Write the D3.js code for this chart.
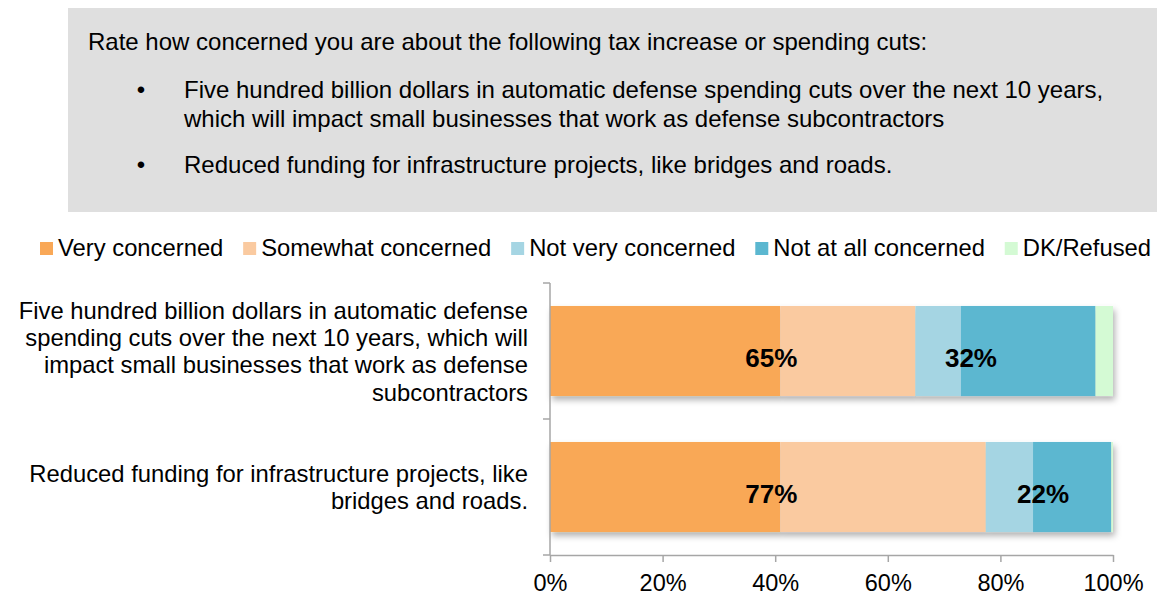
<!DOCTYPE html>
<html>
<head>
<meta charset="utf-8">
<script src="https://cdn.jsdelivr.net/npm/d3@7"></script>
<style>
  html, body { margin: 0; padding: 0; background: #fff; }
  svg { display: block; font-family: "Liberation Sans", Arial, sans-serif; }
</style>
</head>
<body>
<svg id="chart" width="1157" height="597"></svg>
<script>
// Survey question shown in the header panel
const questionText = "Rate how concerned you are about the following tax increase or spending cuts:";
const questionItems = [
  ["Five hundred billion dollars in automatic defense spending cuts over the next 10 years,",
   "which will impact small businesses that work as defense subcontractors"],
  ["Reduced funding for infrastructure projects, like bridges and roads."]
];

// Categories (wrapped axis labels)
const categories = ["defense", "infrastructure"];
const categoryLines = [
  ["Five hundred billion dollars in automatic defense",
   "spending cuts over the next 10 years, which will",
   "impact small businesses that work as defense",
   "subcontractors"],
  ["Reduced funding for infrastructure projects, like",
   "bridges and roads."]
];

// Response series (percent of respondents)
const seriesNames = ["Very concerned", "Somewhat concerned", "Not very concerned", "Not at all concerned", "DK/Refused"];
const veryConcerned      = [40.9, 40.9];
const somewhatConcerned  = [24.0, 36.5];
const notVeryConcerned   = [8.1, 8.4];
const notAtAllConcerned  = [23.9, 13.9];
const dkRefused          = [3.1, 0.3];

const seriesColors = ["#F9A857", "#FACAA0", "#A5D5E3", "#5BB7D0", "#D4FAD4"];
const xTicks = [0, 20, 40, 60, 80, 100];

// ---- layout ----
const svg = d3.select("#chart");
const font = "\"Liberation Sans\", Arial, sans-serif";

// header panel
svg.append("rect")
  .attr("x", 68).attr("y", 8).attr("width", 1157 - 68).attr("height", 204)
  .attr("fill", "#DFDFDF");

svg.append("text")
  .attr("x", 88).attr("y", 50)
  .attr("font-size", 24).attr("fill", "#000")
  .text(questionText);

const itemBaselines = [[98, 127], [172.5]];
questionItems.forEach((lines, i) => {
  svg.append("text")
    .attr("x", 141).attr("y", itemBaselines[i][0])
    .attr("text-anchor", "middle")
    .attr("font-size", 24).attr("fill", "#000")
    .text("\u2022");
  lines.forEach((ln, j) => {
    svg.append("text")
      .attr("x", 184).attr("y", itemBaselines[i][j])
      .attr("font-size", 24).attr("fill", "#000")
      .text(ln);
  });
});

// drop shadow for bars
const defs = svg.append("defs");
const f = defs.append("filter").attr("id", "barShadow")
  .attr("x", "-5%").attr("y", "-10%").attr("width", "115%").attr("height", "140%");
f.append("feDropShadow")
  .attr("dx", 2).attr("dy", 4).attr("stdDeviation", 3)
  .attr("flood-color", "#000").attr("flood-opacity", 0.3);

// scales
const x = d3.scaleLinear().domain([0, 100]).range([550, 1113]);
const y = d3.scaleBand().domain(categories).range([283, 555])
  .paddingInner(0.338).paddingOuter(0.169);

// stacked data
const table = categories.map((c, i) => ({
  cat: c,
  "Very concerned": veryConcerned[i],
  "Somewhat concerned": somewhatConcerned[i],
  "Not very concerned": notVeryConcerned[i],
  "Not at all concerned": notAtAllConcerned[i],
  "DK/Refused": dkRefused[i]
}));
const stacked = d3.stack().keys(seriesNames)(table);

// bars: one shadowed group per category so the shadow falls under the whole bar
const barGroups = svg.append("g").selectAll("g")
  .data(categories)
  .join("g")
  .attr("filter", "url(#barShadow)");

barGroups.each(function(cat, ci) {
  d3.select(this).selectAll("rect")
    .data(stacked.map((s, si) => ({ s0: s[ci][0], s1: s[ci][1], si })))
    .join("rect")
    .attr("x", d => x(d.s0))
    .attr("y", y(cat))
    .attr("width", d => Math.max(0, x(d.s1) - x(d.s0)))
    .attr("height", y.bandwidth())
    .attr("fill", d => seriesColors[d.si]);
});

// net labels
const netConcerned = categories.map((c, i) => Math.round(veryConcerned[i] + somewhatConcerned[i]));
const netNotConcerned = categories.map((c, i) => Math.round(notVeryConcerned[i] + notAtAllConcerned[i]));

categories.forEach((c, i) => {
  const base = y(c) + y.bandwidth() / 2 + 16;
  svg.append("text")
    .attr("x", x(veryConcerned[i]) - 9)
    .attr("y", base)
    .attr("text-anchor", "middle")
    .attr("font-size", 26).attr("font-weight", "bold").attr("fill", "#000")
    .text(netConcerned[i] + "%");
  const notStart = veryConcerned[i] + somewhatConcerned[i] + notVeryConcerned[i];
  svg.append("text")
    .attr("x", x(notStart) + 10)
    .attr("y", base)
    .attr("text-anchor", "middle")
    .attr("font-size", 26).attr("font-weight", "bold").attr("fill", "#000")
    .text(netNotConcerned[i] + "%");
});

// x axis
const axisColor = "#A6A6A6";
const xAxis = svg.append("g")
  .attr("transform", "translate(0,555)")
  .call(d3.axisBottom(x).tickValues(xTicks).tickFormat(d => d + "%")
    .tickSize(7).tickSizeOuter(0).tickPadding(12));
xAxis.select(".domain").attr("stroke", axisColor).attr("stroke-width", 1.5);
xAxis.selectAll(".tick line").attr("stroke", axisColor).attr("stroke-width", 1.5);
xAxis.selectAll(".tick text").attr("font-size", 23.5).attr("font-family", font).attr("fill", "#000");

// y axis: vertical line with boundary ticks between categories
const yTop = y.range()[0], yBot = y.range()[1];
const boundaries = [yTop].concat(categories.map(c => y(c) + y.bandwidth() + y.step() * y.paddingInner() / 2));
const yAxis = svg.append("g");
yAxis.append("line")
  .attr("x1", x(0)).attr("x2", x(0)).attr("y1", yTop).attr("y2", yBot)
  .attr("stroke", axisColor).attr("stroke-width", 1.5);
yAxis.selectAll("line.tick")
  .data(boundaries)
  .join("line").attr("class", "tick")
  .attr("x1", x(0) - 7).attr("x2", x(0))
  .attr("y1", d => d).attr("y2", d => d)
  .attr("stroke", axisColor).attr("stroke-width", 1.5);

// category labels
const lineGap = 27.3;
categories.forEach((c, i) => {
  const lines = categoryLines[i];
  const mid = y(c) + y.bandwidth() / 2;
  lines.forEach((ln, j) => {
    svg.append("text")
      .attr("x", 528)
      .attr("y", mid + (j - (lines.length - 1) / 2) * lineGap + 8.6)
      .attr("text-anchor", "end")
      .attr("font-size", 23.8).attr("fill", "#000")
      .text(ln);
  });
});

// legend
let lx = 40;
const legend = svg.append("g");
seriesNames.forEach((name, i) => {
  legend.append("rect")
    .attr("x", lx).attr("y", 242).attr("width", 13).attr("height", 13)
    .attr("fill", seriesColors[i]);
  const t = legend.append("text")
    .attr("x", lx + 18).attr("y", 256)
    .attr("font-size", 23.8).attr("fill", "#000")
    .text(name);
  lx += 18 + t.node().getComputedTextLength() + 19.8;
});
</script>
</body>
</html>
